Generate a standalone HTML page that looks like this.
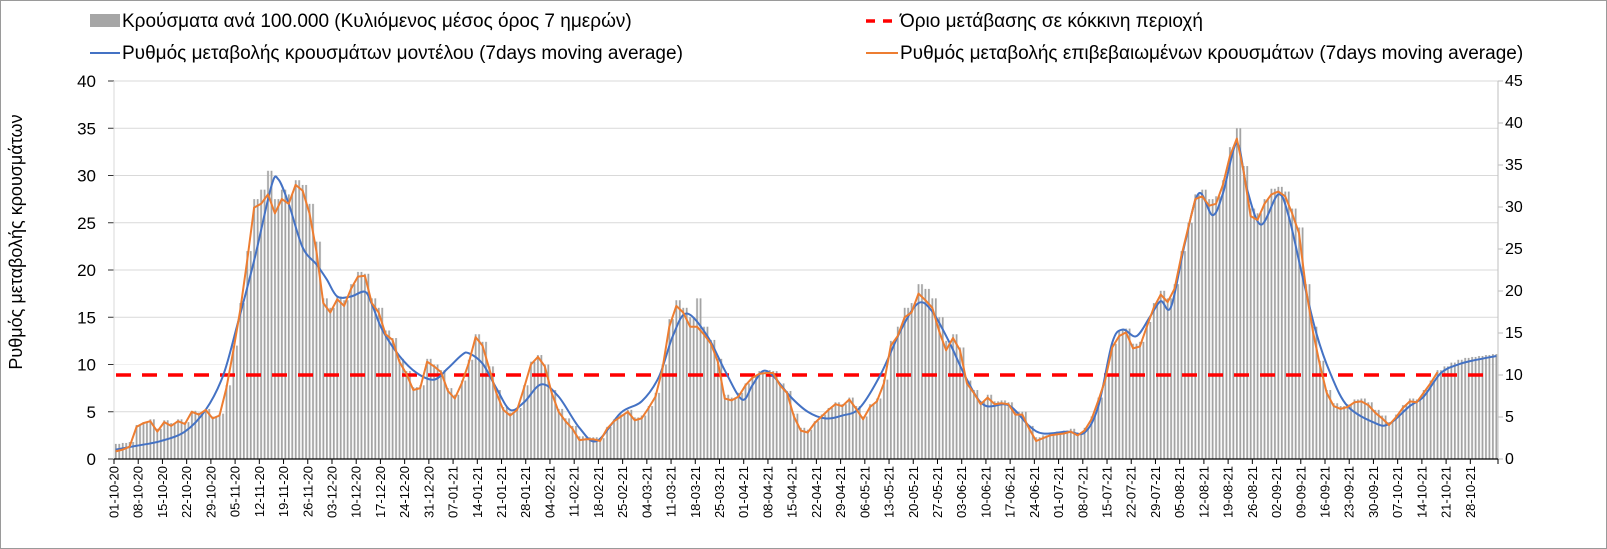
<!DOCTYPE html>
<html><head><meta charset="utf-8">
<style>
html,body{margin:0;padding:0;background:#fff;}
svg{display:block;font-family:"Liberation Sans","DejaVu Sans",sans-serif;}
</style></head>
<body>
<svg id="chart" width="1607" height="549" viewBox="0 0 1607 549" xmlns="http://www.w3.org/2000/svg">
<defs>
<pattern id="stripes" patternUnits="userSpaceOnUse" x="114" y="0" width="3.46" height="10">
<rect x="0.9" y="0" width="1.8" height="10" fill="#a3a3a3"/>
</pattern>
</defs>
<rect x="0.5" y="0.5" width="1606" height="548" fill="#fff" stroke="#9a9a9a"/>
<g id="grid"></g>
<g id="bars"></g>
<g id="lines"></g>
<g id="axes"></g>
<g id="legend">
  <rect x="90" y="14" width="30" height="13" fill="#a6a6a6"/>
  <text x="122" y="27" font-size="19" fill="#000">Κρούσματα ανά 100.000 (Κυλιόμενος μέσος όρος 7 ημερών)</text>
  <line x1="90" y1="53" x2="120" y2="53" stroke="#4472c4" stroke-width="2"/>
  <text x="122" y="59" font-size="19" fill="#000">Ρυθμός μεταβολής κρουσμάτων μοντέλου (7days moving average)</text>
  <line x1="866" y1="21" x2="898" y2="21" stroke="#ff0000" stroke-width="3.5" stroke-dasharray="9 8"/>
  <text x="900" y="27" font-size="19" fill="#000">Όριο μετάβασης σε κόκκινη περιοχή</text>
  <line x1="866" y1="53" x2="898" y2="53" stroke="#ed7d31" stroke-width="2"/>
  <text x="900" y="59" font-size="19" fill="#000">Ρυθμός μεταβολής επιβεβαιωμένων κρουσμάτων (7days moving average)</text>
</g>
<text x="22" y="242" font-size="18" text-anchor="middle" transform="rotate(-90 22 242)">Ρυθμός μεταβολής κρουσμάτων</text>
</svg>
<script>
// ---- data ----
const startDate = [2020, 10, 1];
const totalDays = 400;
const sampleStep = 2;
const confirmedValues = [0.8,1.0,1.3,3.4,3.8,4.0,2.9,3.9,3.5,4.0,3.7,5.0,4.7,5.2,4.3,4.6,7.5,11.5,15.8,21,26.6,27,28,26,27.5,27,29,28.4,26,22,16.5,15.5,16.9,16.2,18,19.3,19.4,16.5,15.5,13.2,12.6,10.3,9,7.3,7.5,10.3,9.8,9.2,7.2,6.4,8,10.1,12.9,12,9.5,7,5.2,4.6,5.2,7.5,10,10.8,9.8,7,5,4,3.2,2,2.1,2.1,1.9,3.2,4,4.5,5,4.1,4.3,5.4,6.6,9.5,14,16.2,15.5,14,14,13.2,12.2,10.3,6.4,6.2,6.6,7.8,8.6,9,9.1,9.1,7.8,7,4.5,3,2.8,3.8,4.5,5.2,5.8,5.6,6.3,5.3,4.2,5.5,6.1,8,12,13,15,15.5,17.5,16.8,16,13.5,11.5,12.8,11.5,8,7,5.8,6.5,5.8,5.9,5.8,4.7,4.7,3.2,1.9,2.2,2.5,2.6,2.7,2.9,2.5,3,4.2,6.2,8.4,11.8,13,13.4,11.7,11.9,14,16,17.4,16.6,18,21.5,24.5,27.5,27.8,26.8,27,29,32,33.9,30.4,25.7,25.3,27,28,28.3,27.8,26,23.9,18,13.5,10,7,5.6,5.3,5.5,6,6.1,5.7,4.9,4.3,3.6,4.4,5.4,6.1,6,7,8,9.2];
const caseBars = [1.6,1.7,1.8,3.6,3.9,4.2,3.2,4.1,3.8,4.2,3.9,5.1,4.9,5.3,4.5,4.8,7.8,12,16.5,22,27.5,28.5,30.5,27.5,28.5,28,29.5,29,27,23,17,16,17.2,16.8,18.5,19.8,19.6,17,16,13.6,12.8,10.6,9.3,7.6,7.8,10.6,10,9.4,7.5,6.8,8.3,10.5,13.2,12.4,9.8,7.3,5.5,4.9,5.4,7.8,10.3,11,10,7.3,5.3,4.3,3.5,2.4,2.3,2.3,2.2,3.4,4.2,4.7,5.2,4.4,4.6,5.6,7,10,14.8,16.8,16,15,17,14,12.6,10.6,6.8,6.5,7,8,8.9,9.3,9.4,9.3,8,7.2,4.8,3.3,3.1,4,4.7,5.4,6,5.8,6.5,5.6,4.5,5.8,6.4,8.4,12.5,14,16,16.5,18.5,18,17,15,12.5,13.2,11.8,8.3,7.3,6.1,6.8,6.1,6.2,6,5,5,3.5,2.3,2.5,2.8,2.9,3,3.2,2.8,3.3,4.5,6.5,8.8,12.2,13.6,13.8,12.2,12.4,14.5,16.5,17.8,17,18.5,22,25,28,28.5,27.5,27.8,29.5,33,35,31,26.5,26,27.5,28.6,28.8,28.3,26.5,24.5,18.5,14,10.4,7.3,5.9,5.6,5.8,6.3,6.4,6,5.2,4.6,3.9,4.7,5.7,6.4,6.3,7.3,8.3,9.4,9.8,10.2,10.5,10.7,10.8,10.9,11.0,11.1];
const modelDays = [0,6,13,20,26,31,35,40,45,47,50,54,58,61,64,68,72,74,77,82,87,92,96,100,102,106,110,114,118,123,128,134,139,146,152,157,161,165,171,176,181,184,187,190,195,200,205,210,215,221,227,232,236,241,246,251,258,264,268,275,280,284,288,291,295,299,302,305,309,313,317,320,324,327,331,336,339,343,347,351,356,364,368,374,378,383,388,392,399];
const modelValues = [1.0,1.4,1.9,2.9,5.2,8.8,14,21,28.9,29.6,27,22.4,20.6,19,17.2,17.2,17.7,16.4,13.7,10.9,9.1,8.4,9.6,11,11.2,10.1,7.5,5.2,6,7.9,6.6,3.3,1.9,4.9,6.1,8.7,13,15.4,13,9.4,6.3,7.8,9.3,8.8,6.6,5,4.3,4.6,5.4,8.9,13.7,16.5,15.6,12.3,8.4,5.7,5.7,3.5,2.7,2.9,2.8,5.6,12.3,13.7,13,15.1,16.7,16.1,22.8,28.1,25.8,28.1,33.4,28.5,24.8,28,25.7,19.3,13.3,9.1,5.6,3.8,3.7,5.6,6.6,9.1,10,10.4,10.9];
const thresholdRight = 10;
const leftTicks = [0,5,10,15,20,25,30,35,40];
const rightTicks = [0,5,10,15,20,25,30,35,40,45];
const tickEveryDays = 7;

// ---- axes functions ----
const X0 = 114, DW = 3.46, Y0 = 459, YTOP = 81;
const LMAX = 40, RMAX = 45;
const xDay = d => X0 + d * DW;
const yL = v => Y0 - v / LMAX * (Y0 - YTOP);
const yR = v => Y0 - v / RMAX * (Y0 - YTOP);
const NS = "http://www.w3.org/2000/svg";
function mk(tag, attrs, parent) {
  const e = document.createElementNS(NS, tag);
  for (const k in attrs) e.setAttribute(k, attrs[k]);
  parent.appendChild(e);
  return e;
}
const grid = document.getElementById('grid');
const barsG = document.getElementById('bars');
const linesG = document.getElementById('lines');
const axesG = document.getElementById('axes');
const XR = xDay(totalDays);

leftTicks.forEach(v => {
  if (v > 0) {
    const g = mk('line', {x1: X0, x2: XR, y1: yL(v), y2: yL(v), stroke: v === 10 ? '#f0f0f0' : '#d9d9d9', 'stroke-width': 1}, grid);
    
    
  }
  const t = mk('text', {x: 96, y: yL(v) + 6, 'font-size': 17, 'text-anchor': 'end', fill: '#000'}, axesG);
  t.textContent = v;
  
  
  const tk = mk('line', {x1: X0 - 6, x2: X0, y1: yL(v), y2: yL(v), stroke: '#333', 'stroke-width': 1}, axesG);
  
  
});
rightTicks.forEach(v => {
  const t = mk('text', {x: 1505, y: yR(v) + 5, 'font-size': 16, fill: '#000'}, axesG);
  t.textContent = v;
  
  
  const tk = mk('line', {x1: XR, x2: XR + 5, y1: yR(v), y2: yR(v), stroke: '#bbb', 'stroke-width': 1}, axesG);
  
  
});
const la = mk('line', {x1: X0, x2: X0, y1: YTOP, y2: Y0, stroke: '#d9d9d9'}, axesG);


const ra = mk('line', {x1: XR, x2: XR, y1: YTOP, y2: Y0, stroke: '#bfbfbf'}, axesG);



caseBars.forEach((v, i) => {
  const d = i * sampleStep;
  const w = Math.min(sampleStep, totalDays - d) * DW;
  const r = mk('rect', {x: xDay(d), y: yL(v), width: w, height: Y0 - yL(v), fill: 'url(#stripes)'}, barsG);
  
  
});

const th = mk('line', {x1: X0 + 2, x2: XR - 6, y1: yR(thresholdRight), y2: yR(thresholdRight), stroke: '#ff0000', 'stroke-width': 3.5, 'stroke-dasharray': '15 11'}, linesG);



function smoothPath(pts) {
  let d = `M${pts[0][0]},${pts[0][1]}`;
  for (let i = 0; i < pts.length - 1; i++) {
    const p0 = pts[Math.max(0, i - 1)], p1 = pts[i], p2 = pts[i + 1], p3 = pts[Math.min(pts.length - 1, i + 2)];
    const c1x = p1[0] + (p2[0] - p0[0]) / 6, c1y = p1[1] + (p2[1] - p0[1]) / 6;
    const c2x = p2[0] - (p3[0] - p1[0]) / 6, c2y = p2[1] - (p3[1] - p1[1]) / 6;
    d += ` C${c1x},${c1y} ${c2x},${c2y} ${p2[0]},${p2[1]}`;
  }
  return d;
}
const mPts = modelDays.map((d, i) => [xDay(d + 0.5), yL(modelValues[i])]);
const ml = mk('path', {d: smoothPath(mPts), fill: 'none', stroke: '#4472c4', 'stroke-width': 2}, linesG);



const cPts = confirmedValues.map((v, i) => `${xDay(i * sampleStep + 0.5).toFixed(1)},${yL(v).toFixed(1)}`);
const cl = mk('polyline', {points: cPts.join(' '), fill: 'none', stroke: '#ed7d31', 'stroke-width': 2, 'stroke-linejoin': 'round'}, linesG);



const xa = mk('line', {x1: X0, x2: XR, y1: Y0, y2: Y0, stroke: '#000', 'stroke-width': 1.2}, axesG);


const base = new Date(startDate[0], startDate[1] - 1, startDate[2], 12);
const pad = n => (n < 10 ? '0' : '') + n;
for (let d = 0; d < totalDays - tickEveryDays; d += tickEveryDays) {
  const dt = new Date(base.getTime() + d * 86400000);
  const lbl = pad(dt.getDate()) + '-' + pad(dt.getMonth() + 1) + '-' + String(dt.getFullYear()).slice(2);
  const x = xDay(d);
  const tk = mk('line', {x1: x, x2: x, y1: Y0, y2: Y0 + 5, stroke: '#000'}, axesG);
  
  
  const t = mk('text', {x: x + 4.5, y: Y0 + 7, 'font-size': 13, 'text-anchor': 'end', transform: `rotate(-90 ${x + 4.5} ${Y0 + 7})`}, axesG);
  t.textContent = lbl;
  
  
}
const lastTk = mk('line', {x1: XR, x2: XR, y1: Y0, y2: Y0 + 5, stroke: '#000'}, axesG);


</script>
</body></html>
